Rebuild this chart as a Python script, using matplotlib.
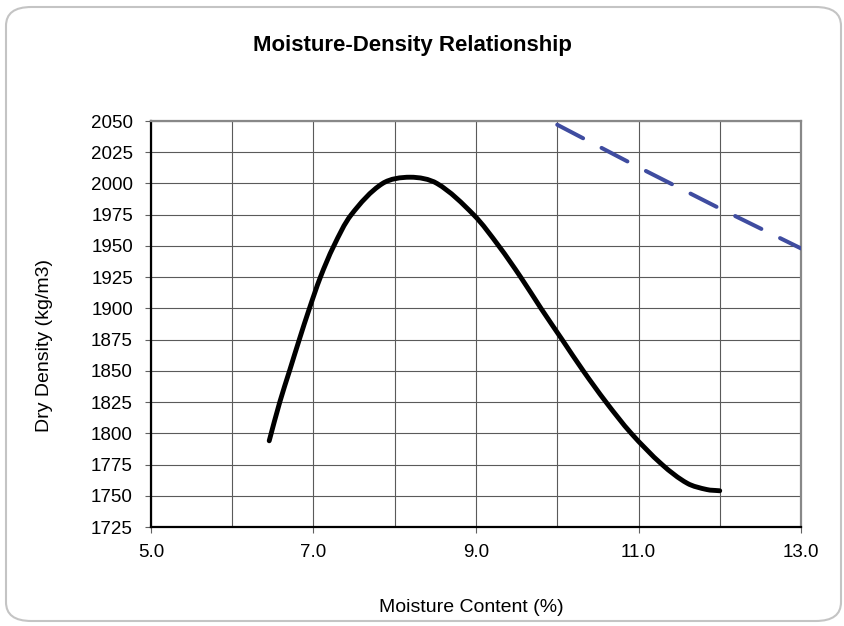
import matplotlib
matplotlib.use("Agg")
import matplotlib.pyplot as plt
import numpy as np
from matplotlib.patches import FancyBboxPatch, PathPatch
from matplotlib.path import Path
from matplotlib.ticker import MultipleLocator, FormatStrFormatter, FixedLocator

plt.rcParams['font.family'] = ['Liberation Sans', 'DejaVu Sans']
plt.rcParams['lines.scale_dashes'] = False

# Compaction curve (moisture %, dry density kg/m3)
moisture = [6.455, 6.585, 6.705, 6.825, 6.95, 7.085, 7.25, 7.465, 7.85, 8.19,
            8.52, 8.97, 9.28, 9.55, 9.80, 10.06, 10.32, 10.60, 10.91, 11.29,
            11.60, 11.84, 12.00]
density = [1794, 1825, 1850, 1875, 1900, 1925, 1950, 1975, 2000, 2005,
           2000, 1975, 1950, 1925, 1900, 1875, 1850, 1825, 1800, 1775,
           1760, 1755, 1754]

# Zero air voids line
zav_moisture = [10.0, 11.0, 12.0, 13.0]
zav_density = [2047, 2013, 1980, 1948]

x_ticks = [5.0, 7.0, 9.0, 11.0, 13.0]
x_grid = [6.0, 8.0, 10.0, 12.0]

title = "Moisture-Density Relationship"
xlabel = "Moisture Content (%)"
ylabel = "Dry Density (kg/m3)"


def smooth_path(xs, ys, sx, sy):
    """Smoothed line through the points (chord-length cubic Beziers).
    sx, sy: approximate screen scale of the axes, used only for tangents."""
    P = np.column_stack([np.asarray(xs) * sx, np.asarray(ys) * sy])
    n = len(P)
    d = np.hypot(*(P[1:] - P[:-1]).T)
    T = np.zeros_like(P)
    T[1:-1] = (P[2:] - P[:-2]) / (d[:-1] + d[1:])[:, None]
    T[0] = (P[1] - P[0]) / d[0]
    T[-1] = (P[-1] - P[-2]) / d[-1]
    verts = [P[0]]
    codes = [Path.MOVETO]
    for i in range(n - 1):
        verts += [P[i] + T[i] * d[i] / 3.0, P[i + 1] - T[i + 1] * d[i] / 3.0,
                  P[i + 1]]
        codes += [Path.CURVE4] * 3
    V = np.array(verts) / np.array([sx, sy])
    return Path(V, codes)


W, H = 845, 626
fig = plt.figure(figsize=(W / 100, H / 100), dpi=100)
fig.patch.set_facecolor('white')

# rounded outer border
border = FancyBboxPatch((6 / W, 5 / H), (841 - 6) / W, (619 - 5) / H,
                        boxstyle="round,pad=0,rounding_size=0.03",
                        transform=fig.transFigure, facecolor='none',
                        edgecolor='#c4c4c4', linewidth=1.5, zorder=-5)
fig.patches.append(border)

ax = fig.add_axes([151 / W, (H - 527) / H, (801 - 151) / W, (527 - 121) / H])
ax.set_facecolor('white')

ax.plot(zav_moisture, zav_density, color='#3F4CA0', linewidth=2.9,
        dashes=(21, 15), dash_capstyle='round', solid_capstyle='round',
        zorder=3)
curve = PathPatch(smooth_path(moisture, density, 81.25, 1.248),
                  facecolor='none', edgecolor='black', linewidth=3.5,
                  capstyle='round', joinstyle='round', zorder=4)
ax.add_patch(curve)

ax.set_xlim(5.0, 13.0)
ax.set_ylim(1725, 2050)
ax.xaxis.set_major_locator(FixedLocator(x_ticks))
ax.xaxis.set_minor_locator(FixedLocator(x_grid))
ax.xaxis.set_major_formatter(FormatStrFormatter('%.1f'))
ax.yaxis.set_major_locator(MultipleLocator(25))

ax.grid(True, which='both', color='#5a5a5a', linewidth=0.8)
ax.set_axisbelow(True)

ax.tick_params(axis='x', which='major', direction='out', length=4.5, width=0.8,
               color='#606060', pad=8, labelsize=13.5)
ax.tick_params(axis='x', which='minor', length=0)
ax.tick_params(axis='y', which='major', direction='out', length=4.5, width=0.8,
               color='#606060', pad=8.5, labelsize=13.5)

for side in ('left', 'bottom'):
    ax.spines[side].set_color('black')
    ax.spines[side].set_linewidth(1.6)
for side in ('top', 'right'):
    ax.spines[side].set_color('#888888')
    ax.spines[side].set_linewidth(1.6)

fig.text(412 / W, 1 - 45 / H, title, ha='center', va='center',
         fontsize=16, fontweight='bold')
fig.text(471 / W, 1 - 607 / H, xlabel, ha='center', va='center', fontsize=14)
fig.text(45 / W, 1 - 345 / H, ylabel, ha='center', va='center', fontsize=14,
         rotation=90)

fig.savefig('out.png', dpi=100, facecolor='white')
